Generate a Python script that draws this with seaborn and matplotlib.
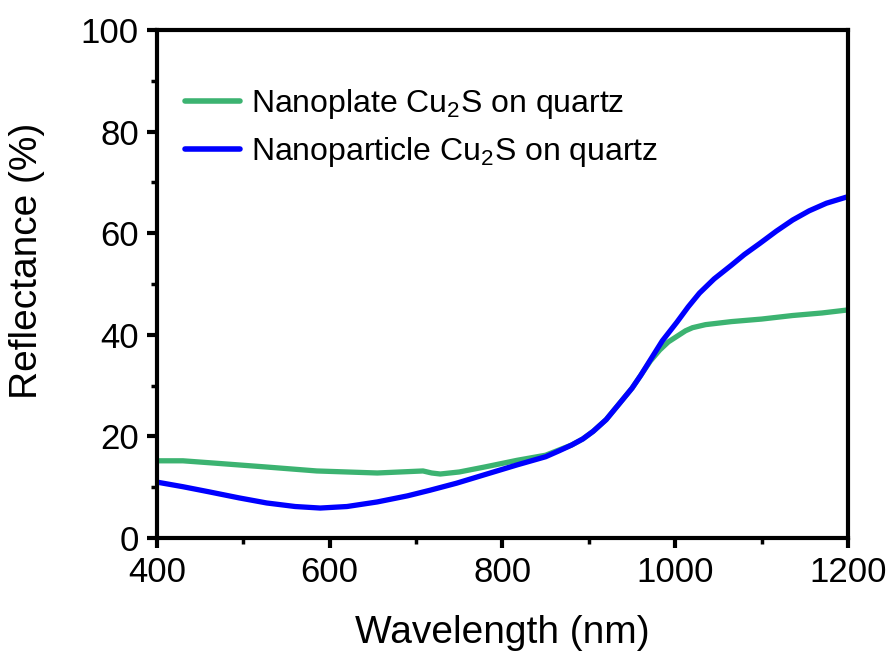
import numpy as np
import pandas as pd
import matplotlib
matplotlib.use('Agg')
import matplotlib.pyplot as plt
import seaborn as sns
from matplotlib.ticker import MultipleLocator

# values
wl_plate = [400, 430, 470, 525, 585, 655, 708, 718, 728, 750, 780, 817, 850, 880, 893, 905, 920, 936, 950, 960, 971,
            982, 992, 1002, 1012, 1020, 1035, 1050, 1065, 1100, 1136, 1170, 1200]
r_plate = [15.2, 15.2, 14.7, 14.0, 13.2, 12.8, 13.2, 12.8, 12.6, 13.0, 14.0, 15.3, 16.3, 18.3, 19.5, 21.0, 23.3, 26.6, 29.5, 32.0, 34.8,
           37.0, 38.6, 39.7, 40.8, 41.4, 42.0, 42.3, 42.6, 43.1, 43.8, 44.3, 44.9]

wl_particle = [400, 430, 460, 495, 527, 560, 589, 620, 655, 690, 716, 747, 780, 817, 850, 866, 880, 893, 905, 920, 936,
               950, 960, 971, 985, 1002, 1015, 1028, 1045, 1065, 1080, 1098, 1117, 1136, 1155, 1175, 1200]
r_particle = [11.0, 10.1, 9.1, 7.9, 6.9, 6.2, 5.9, 6.2, 7.1, 8.3, 9.4, 10.8, 12.5, 14.4, 16.0, 17.2, 18.3, 19.5, 21.0, 23.3, 26.6,
              29.5, 32.0, 35.0, 38.8, 42.5, 45.5, 48.2, 51.0, 53.7, 55.8, 58.0, 60.4, 62.6, 64.4, 65.9, 67.2]

label_plate = r'Nanoplate Cu$_2$S on quartz'
label_particle = r'Nanoparticle Cu$_2$S on quartz'

df = pd.concat([
    pd.DataFrame({'wl': wl_plate, 'R': r_plate, 'sample': label_plate}),
    pd.DataFrame({'wl': wl_particle, 'R': r_particle, 'sample': label_particle}),
])

sns.set_style('ticks')
plt.rcParams['font.family'] = ['Liberation Sans', 'DejaVu Sans']
plt.rcParams['mathtext.fontset'] = 'custom'
plt.rcParams['mathtext.rm'] = 'Liberation Sans'
plt.rcParams['mathtext.default'] = 'regular'
for k in ['text.color', 'axes.labelcolor', 'xtick.color', 'ytick.color', 'axes.edgecolor']:
    plt.rcParams[k] = 'black'

fig = plt.figure(figsize=(8.96, 6.55), dpi=100)
ax = fig.add_axes([0.1752, 0.1786, 0.9464 - 0.1752, 0.9542 - 0.1786])

sns.lineplot(data=df, x='wl', y='R', hue='sample', sort=False, estimator=None,
             palette={label_plate: '#3cb371', label_particle: '#0000ff'},
             linewidth=3.8, ax=ax)

ax.set_xlim(400, 1200)
ax.set_ylim(0, 100)
ax.xaxis.set_major_locator(MultipleLocator(200))
ax.xaxis.set_minor_locator(MultipleLocator(100))
ax.yaxis.set_major_locator(MultipleLocator(20))
ax.yaxis.set_minor_locator(MultipleLocator(10))
for s in ax.spines.values():
    s.set_linewidth(3.0)
    s.set_visible(True)
ax.tick_params(which='major', direction='out', length=7, width=3, labelsize=25, pad=6)
ax.tick_params(which='minor', direction='out', length=4, width=2.5)
ax.set_xlabel('Wavelength (nm)', fontsize=28)
ax.set_ylabel('Reflectance (%)', fontsize=28)
ax.xaxis.set_label_coords(0.5, -0.152)
ax.yaxis.set_label_coords(-0.162, 0.545)

leg = ax.legend(loc='upper left', bbox_to_anchor=(0.041, 0.888), frameon=False,
                fontsize=23, handlelength=1.7, handletextpad=0.35,
                labelspacing=0.45, borderpad=0, borderaxespad=0)
for h in leg.get_lines():
    h.set_linewidth(4)

fig.savefig('out.png', dpi=100)
